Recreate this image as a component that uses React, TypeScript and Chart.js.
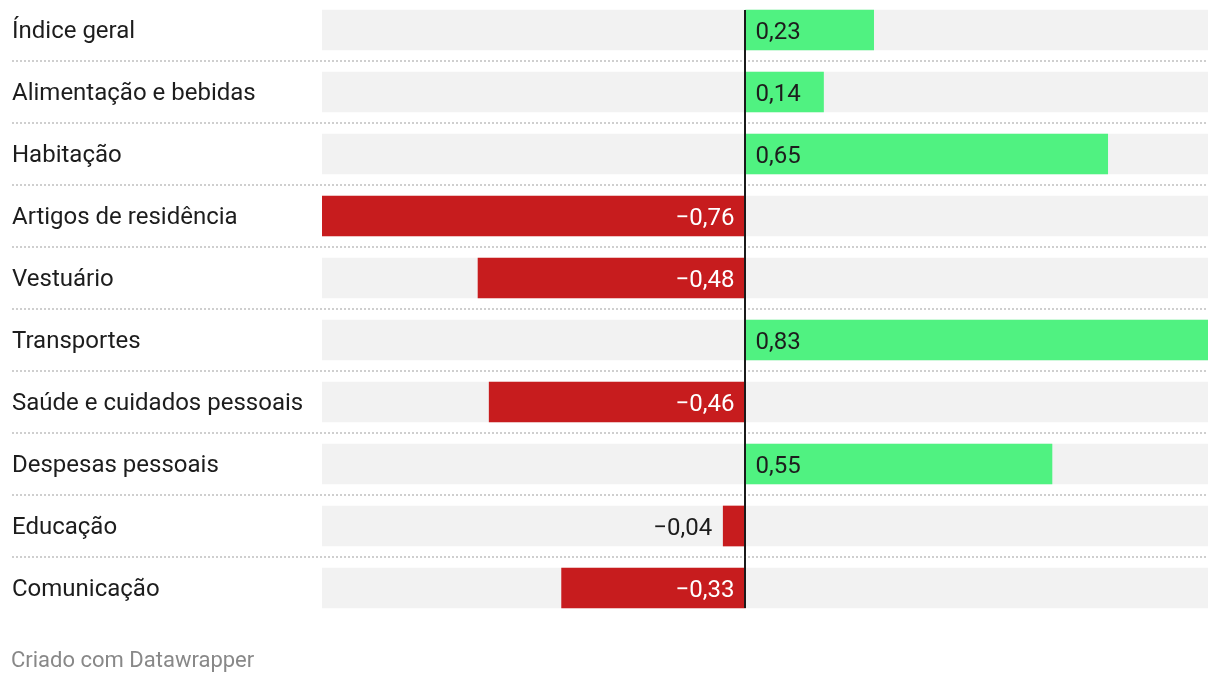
import React, { useEffect, useRef } from "react";
import { Chart, registerables } from "chart.js";

Chart.register(...registerables);

const categories = [
  "Índice geral",
  "Alimentação e bebidas",
  "Habitação",
  "Artigos de residência",
  "Vestuário",
  "Transportes",
  "Saúde e cuidados pessoais",
  "Despesas pessoais",
  "Educação",
  "Comunicação",
];
const values = [0.23, 0.14, 0.65, -0.76, -0.48, 0.83, -0.46, 0.55, -0.04, -0.33];
const axisMin = -0.76;
const axisMax = 0.83;
const footerText = "Criado com Datawrapper";

const POS = "#50f281";
const NEG = "#c71c1e";
const BG = "#f2f2f2";
const TEXT = "#1d1d1d";
const FONT = "Roboto";
const FSIZE = 24;

const fmt = (v: number) => {
  const s = Math.abs(v).toFixed(2).replace(".", ",");
  return v < 0 ? "\u2212" + s : s;
};

const separatorPlugin = {
  id: "separators",
  beforeDatasetsDraw(chart: any) {
    const { ctx } = chart;
    const y = chart.scales.y;
    ctx.save();
    ctx.strokeStyle = "#cfcfcf";
    ctx.lineWidth = 2;
    ctx.setLineDash([2, 2]);
    for (let i = 0; i < categories.length - 1; i++) {
      const py = Math.round((y.getPixelForValue(i) + y.getPixelForValue(i + 1)) / 2);
      ctx.beginPath();
      ctx.moveTo(12, py);
      ctx.lineTo(chart.chartArea.right, py);
      ctx.stroke();
    }
    ctx.restore();
  },
};

const labelPlugin = {
  id: "valueLabels",
  afterDatasetsDraw(chart: any) {
    const { ctx } = chart;
    const x = chart.scales.x;
    const zero = x.getPixelForValue(0);
    const meta = chart.getDatasetMeta(1);
    const bg = chart.getDatasetMeta(0);
    ctx.save();
    const top = bg.data[0].y - bg.data[0].height / 2;
    const last = bg.data[bg.data.length - 1];
    const bottom = last.y + last.height / 2;
    ctx.fillStyle = "#1a1a1a";
    ctx.fillRect(Math.round(zero) - 1, top, 2, bottom - top);
    ctx.font = `${FSIZE}px ${FONT}`;
    ctx.textBaseline = "middle";
    values.forEach((v, i) => {
      const el = meta.data[i];
      const txt = fmt(v);
      const w = ctx.measureText(txt).width;
      const barW = Math.abs(el.x - zero);
      const ty = el.y + 3;
      if (v >= 0) {
        ctx.textAlign = "left";
        ctx.fillStyle = TEXT;
        ctx.fillText(txt, zero + 10, ty);
      } else if (barW > w + 20) {
        ctx.textAlign = "right";
        ctx.fillStyle = "#ffffff";
        ctx.fillText(txt, zero - 11, ty);
      } else {
        ctx.textAlign = "right";
        ctx.fillStyle = TEXT;
        ctx.fillText(txt, el.x - 11, ty);
      }
    });
    ctx.restore();
  },
};

export default function App() {
  const ref = useRef<HTMLCanvasElement | null>(null);
  useEffect(() => {
    if (!ref.current) return;
    const chart = new Chart(ref.current, {
      type: "bar",
      data: {
        labels: categories,
        datasets: [
          {
            data: categories.map(() => [axisMin, axisMax]) as any,
            backgroundColor: BG,
            barThickness: 40,
            grouped: false,
            order: 2,
          } as any,
          {
            data: values,
            backgroundColor: values.map((v) => (v >= 0 ? POS : NEG)),
            barThickness: 40,
            grouped: false,
            order: 1,
          } as any,
        ],
      },
      options: {
        indexAxis: "y",
        responsive: false,
        animation: false,
        events: [],
        layout: { padding: { left: 12, right: 12, top: 0, bottom: 65 } },
        plugins: { legend: { display: false }, tooltip: { enabled: false } },
        scales: {
          x: { min: axisMin, max: axisMax, display: false },
          y: {
            type: "category",
            offset: true,
            grid: { display: false },
            border: { display: false },
            ticks: {
              crossAlign: "far",
              color: TEXT,
              padding: 0,
              labelOffset: 2,
              font: { family: FONT, size: FSIZE },
            },
            afterFit: (s: any) => {
              s.width = 310;
              s.paddingTop = 0;
              s.paddingBottom = 0;
            },
          } as any,
        },
      },
      plugins: [separatorPlugin, labelPlugin],
    });
    return () => chart.destroy();
  }, []);
  return (
    <div style={{ position: "absolute", left: 0, top: -1, width: 1220, height: 685 }}>
      <canvas ref={ref} width={1220} height={685} style={{ display: "block" }} />
      <div
        style={{
          position: "absolute",
          left: 11,
          top: 647,
          fontFamily: FONT,
          fontSize: 22,
          color: "#888888",
          lineHeight: "28px",
          whiteSpace: "nowrap",
        }}
      >
        {footerText}
      </div>
    </div>
  );
}
